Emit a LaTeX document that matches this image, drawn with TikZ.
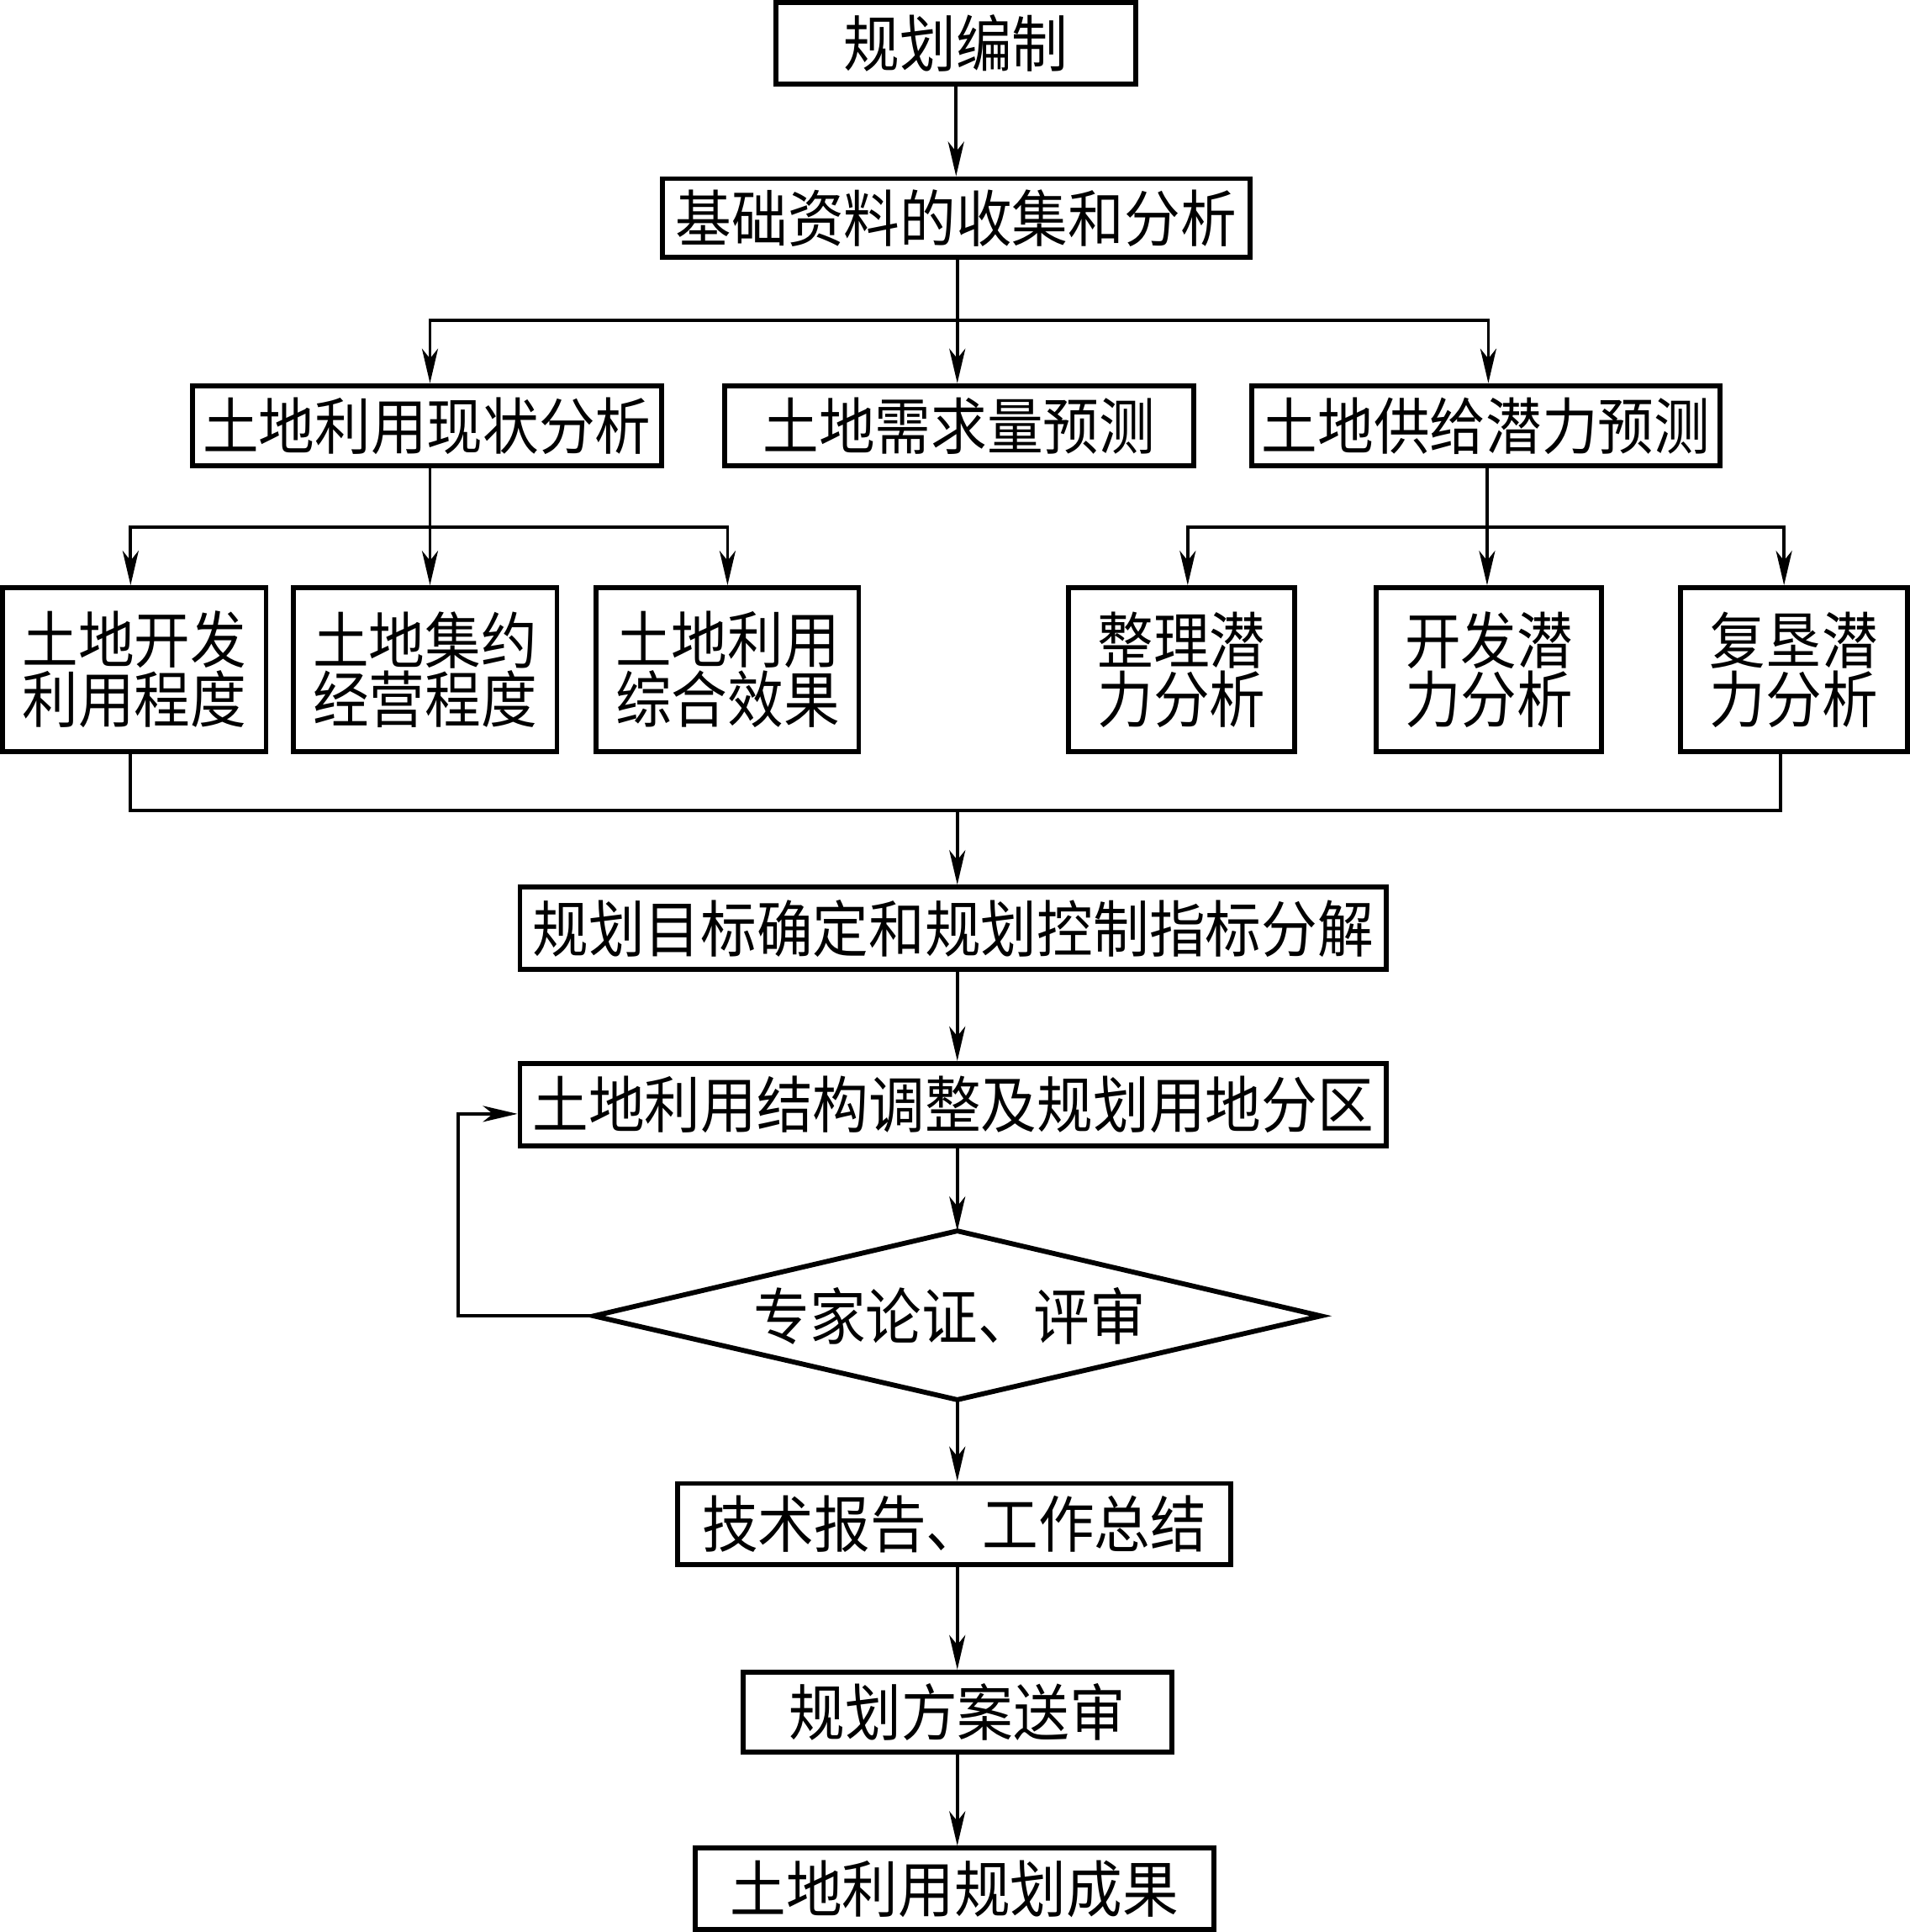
\documentclass[tikz,border=0pt]{standalone}
\usepackage{fontspec}
\newfontfamily\cjk{Noto Sans CJK SC}[FakeStretch=0.91]
\usetikzlibrary{arrows.meta,calc}
\tikzset{
  box/.style={draw, line width=2pt, inner sep=0pt, align=center,
    font=\cjk\fontsize{25}{22.5}\selectfont},
  lbl/.style={inner sep=0pt, align=center, font=\cjk\fontsize{25}{22.5}\selectfont},
  conn/.style={line width=1.3pt},
  arr/.style={conn, -{Stealth[length=14pt,width=6.5pt,inset=4pt]}},
}
\begin{document}
\begin{tikzpicture}[x=0.5pt,y=-0.5pt]
\useasboundingbox (0,0) rectangle (1550,1568);
\node[box, minimum width=146pt, minimum height=33pt] (n1) at (776,35) {规划编制};
\node[box, minimum width=238.5pt, minimum height=32pt] (n2) at (776,177) {基础资料的收集和分析};
\node[box, minimum width=190.5pt, minimum height=32.5pt] (a1) at (346.5,345.5) {土地利用现状分析};
\node[box, minimum width=190.5pt, minimum height=32.5pt] (a2) at (778.5,345.5) {土地需求量预测};
\node[box, minimum width=190pt, minimum height=32.5pt] (a3) at (1206,345.5) {土地供给潜力预测};
\node[box, minimum width=107pt, minimum height=66.5pt] (b1) at (109,543.5) {土地开发\\利用程度};
\node[box, minimum width=107pt, minimum height=66.5pt] (b2) at (345,543.5) {土地集约\\经营程度};
\node[box, minimum width=106.5pt, minimum height=66.5pt] (b3) at (590.5,543.5) {土地利用\\综合效果};
\node[box, minimum width=92pt, minimum height=66.5pt] (c1) at (959,543.5) {整理潜\\力分析};
\node[box, minimum width=91.5pt, minimum height=66.5pt] (c2) at (1208.5,543.5) {开发潜\\力分析};
\node[box, minimum width=92pt, minimum height=66.5pt] (c3) at (1456,543.5) {复垦潜\\力分析};
\node[box, minimum width=351.5pt, minimum height=33.5pt] (n3) at (773.5,753.5) {规划目标确定和规划控制指标分解};
\node[box, minimum width=351.5pt, minimum height=33.5pt] (n4) at (773.5,896.5) {土地利用结构调整及规划用地分区};
% decision diamond
\coordinate (dN) at (777,999);
\coordinate (dS) at (777,1136);
\coordinate (dW) at (482,1068);
\coordinate (dE) at (1072,1068);
\draw[line width=2pt, line join=miter] (dN) -- (dE) -- (dS) -- (dW) -- cycle;
\node[lbl] (d) at (771,1068) {专家论证、评审};
\node[box, minimum width=224.5pt, minimum height=33pt] (n5) at (774.5,1237) {技术报告、工作总结};
\node[box, minimum width=174pt, minimum height=32.5pt] (n6) at (777,1389.5) {规划方案送审};
\node[box, minimum width=210.5pt, minimum height=33pt] (n7) at (774.5,1533) {土地利用规划成果};
% junctions
\coordinate (j1) at (777,260);
\coordinate (j2) at (349,428);
\coordinate (j3) at (1207,428);
\coordinate (j4) at (777,658);
\coordinate (fb) at (372,1068);
\coordinate (fbin) at ($(n4.west)+(0,7.5)$);
% connectors
\draw[arr] (n1.south -| 776,0) -- (n2.north -| 776,0);
\draw[arr] (n2.south -| j1) -- (a2.north -| j1);
\draw[arr] (j1) -| (a1.north -| j2);
\draw[arr] (j1) -| (a3.north -| 1208,0);
\draw[arr] (a1.south -| j2) -- (b2.north -| j2);
\draw[arr] (j2) -| (b1.north -| 106,0);
\draw[arr] (j2) -| (b3.north);
\draw[arr] (a3.south -| j3) -- (c2.north -| j3);
\draw[arr] (j3) -| (c1.north -| 964,0);
\draw[arr] (j3) -| (c3.north -| 1448,0);
\draw[conn] (b1.south -| 106,0) |- (j4) -| (c3.south -| 1445,0);
\draw[arr] (j4) -- (n3.north -| j4);
\draw[arr] (n3.south -| j4) -- (n4.north -| j4);
\draw[arr] (n4.south -| j4) -- (dN);
\draw[arr] (dW) -- (fb) |- (fbin);
\draw[arr] (dS) -- (n5.north -| dS);
\draw[arr] (n5.south -| dS) -- (n6.north -| dS);
\draw[arr] (n6.south -| dS) -- (n7.north -| dS);
\end{tikzpicture}
\end{document}
